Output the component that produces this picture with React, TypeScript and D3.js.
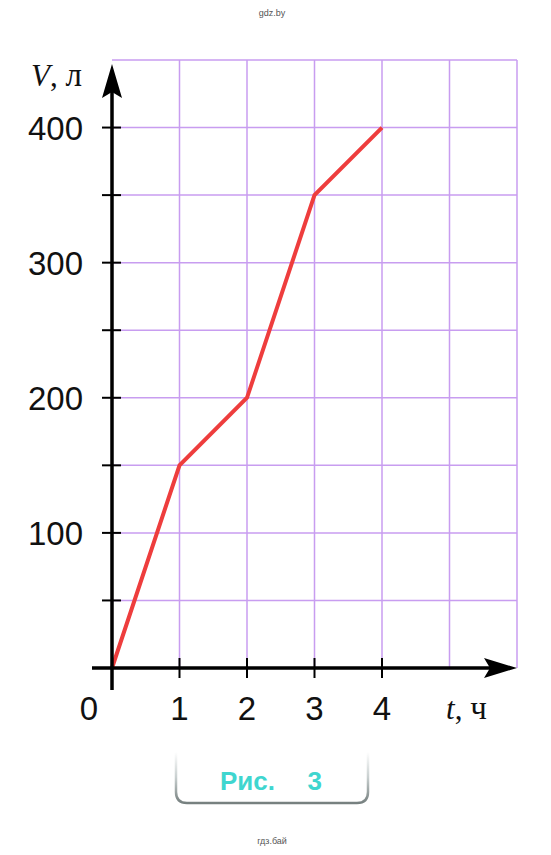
import React from "react";
import * as d3 from "d3";

const hours = [0, 1, 2, 3, 4];
const volumes = [0, 150, 200, 350, 400];
const xTickLabels = [1, 2, 3, 4];
const yTickLabels = [100, 200, 300, 400];
const yMinorTicks = [50, 100, 150, 200, 250, 300, 350, 400];
const xGrid = [1, 2, 3, 4, 5, 6];
const yGrid = [50, 100, 150, 200, 250, 300, 350, 400, 450];

export default function App() {
  const x = d3.scaleLinear().domain([0, 6]).range([112, 517]);
  const y = d3.scaleLinear().domain([0, 450]).range([668, 60]);
  const line = d3
    .line<number>()
    .x((_, i) => x(hours[i]))
    .y((d) => y(d));
  const gridColor = "#c89df0";
  const sans = "'Liberation Sans', Arial, Helvetica, sans-serif";
  const serif = "'Liberation Serif', 'Times New Roman', serif";
  const x0 = x(0);
  const y0 = y(0);
  return (
    <svg
      width={551}
      height={855}
      style={{ position: "absolute", left: 0, top: 0, background: "#fff" }}
    >
      <defs>
        <linearGradient id="frameGrad" x1="0" y1="0" x2="0" y2="1">
          <stop offset="0" stopColor="#ffffff" />
          <stop offset="0.5" stopColor="#c8cfcf" />
          <stop offset="1" stopColor="#76807f" />
        </linearGradient>
      </defs>
      <rect width={551} height={855} fill="#fff" />
      <text x={272} y={16} fontSize={9} fill="#555" textAnchor="middle" fontFamily={sans}>
        gdz.by
      </text>
      <text x={272} y={844} fontSize={9} fill="#555" textAnchor="middle" fontFamily={sans}>
        гдз.бай
      </text>
      {/* grid */}
      {xGrid.map((t) => (
        <line key={"gx" + t} x1={x(t)} x2={x(t)} y1={y(0)} y2={y(450)} stroke={gridColor} strokeWidth={1.5} />
      ))}
      {yGrid.map((v) => (
        <line key={"gy" + v} x1={x(0)} x2={x(6)} y1={y(v)} y2={y(v)} stroke={gridColor} strokeWidth={1.5} />
      ))}
      {/* data line */}
      <path d={line(volumes) || ""} fill="none" stroke="#ee3d3d" strokeWidth={4} strokeLinejoin="miter" />
      {/* y axis */}
      <line x1={x0} x2={x0} y1={y0 + 22} y2={90} stroke="#000" strokeWidth={3.5} />
      <path d={`M${x0},64 L${x0 + 10},98 L${x0},92 L${x0 - 10},98 Z`} fill="#000" />
      {/* x axis */}
      <line x1={x0 - 20} x2={x(6) - 20} y1={y0} y2={y0} stroke="#000" strokeWidth={3.5} />
      <path d={`M${x(6)},${y0} L${x(6) - 33},${y0 - 10} L${x(6) - 27},${y0} L${x(6) - 33},${y0 + 10} Z`} fill="#000" />
      {/* ticks */}
      {yMinorTicks.map((v) => (
        <line key={"ty" + v} x1={x0 - 10} x2={x0 + 9} y1={y(v)} y2={y(v)} stroke="#000" strokeWidth={2} />
      ))}
      {xTickLabels.map((t) => (
        <line key={"tx" + t} x1={x(t)} x2={x(t)} y1={y0 - 10} y2={y0 + 10} stroke="#000" strokeWidth={2} />
      ))}
      {/* labels */}
      {yTickLabels.map((v) => (
        <text key={"ly" + v} x={83} y={y(v) + 12} fontSize={33} textAnchor="end" fontFamily={sans} fill="#111">
          {v}
        </text>
      ))}
      {xTickLabels.map((t) => (
        <text key={"lx" + t} x={x(t)} y={720} fontSize={33} textAnchor="middle" fontFamily={sans} fill="#111">
          {t}
        </text>
      ))}
      <text x={89} y={720} fontSize={33} textAnchor="middle" fontFamily={sans} fill="#111">
        0
      </text>
      <text x={31} y={86} fontSize={31} fontFamily={serif} fill="#111">
        <tspan fontStyle="italic">V</tspan>
        <tspan>, </tspan>
        <tspan fontSize={33}>л</tspan>
      </text>
      <text x={446} y={719} fontSize={31} fontFamily={serif} fill="#111">
        <tspan fontStyle="italic">t</tspan>
        <tspan>, </tspan>
        <tspan fontSize={33}>ч</tspan>
      </text>
      {/* caption frame */}
      <path
        d="M176,752 L176,792 Q176,803 187,803 L357,803 Q368,803 368,792 L368,752"
        fill="#fff"
        stroke="url(#frameGrad)"
        strokeWidth={2.5}
      />
      <text x={220} y={790} fontSize={26} fontWeight="bold" fontFamily={sans} fill="#3fd6cf">
        Рис.
      </text>
      <text x={322} y={790} fontSize={26} fontWeight="bold" textAnchor="end" fontFamily={sans} fill="#3fd6cf">
        3
      </text>
    </svg>
  );
}
